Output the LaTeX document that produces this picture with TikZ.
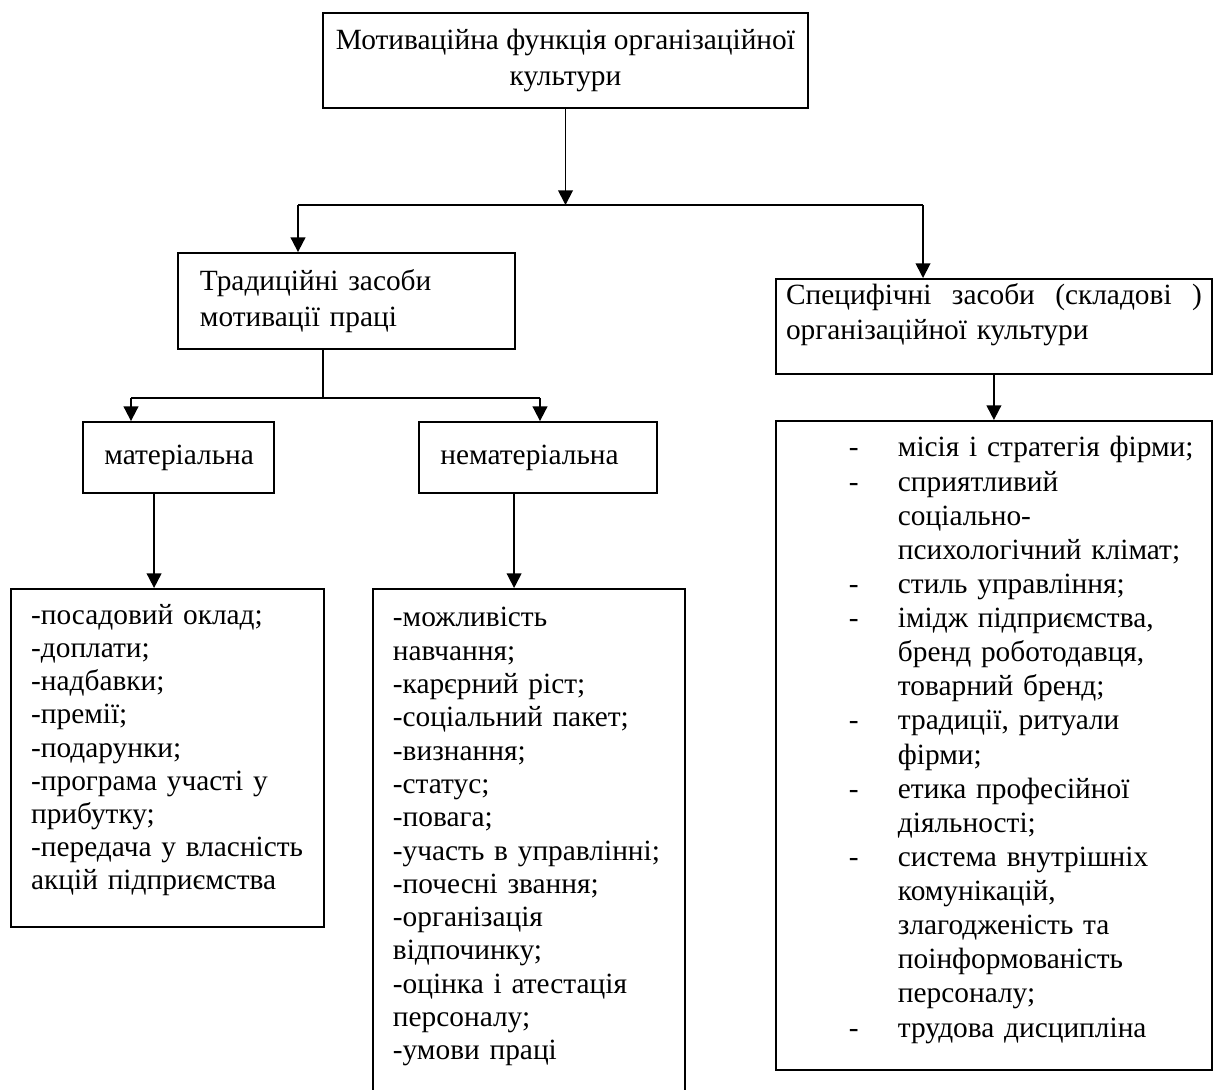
\documentclass[tikz,border=0pt]{standalone}
\usepackage{fontspec}
\setmainfont{Liberation Serif}
\usetikzlibrary{arrows.meta, calc}

\tikzstyle{headbox} = [
    rectangle,
    draw=black,
    line width=1pt,
    minimum width=264.3pt,
    minimum height=51.8pt,
    align=center,
    font=\fontsize{16}{19.2}\selectfont
]
\tikzstyle{groupbox} = [
    rectangle,
    draw=black,
    line width=1pt,
    inner xsep=12pt,
    text width=159.7pt,
    minimum height=52.3pt,
    align=left,
    font=\fontsize{16}{19.6}\selectfont
]
\tikzstyle{kindbox} = [
    rectangle,
    draw=black,
    line width=1pt,
    inner xsep=11.7pt,
    minimum height=38.7pt,
    align=left,
    font=\fontsize{16}{18}\selectfont
]
\tikzstyle{listbox} = [
    rectangle,
    draw=black,
    line width=1pt,
    anchor=north west,
    inner ysep=0pt,
    align=left,
    font=\fontsize{16}{18}\selectfont
]
\tikzstyle{joint} = [line width=1pt]
\tikzstyle{arrow} = [line width=1pt, -{Triangle[length=8pt, width=8pt]}]

\newcommand{\dashitem}[1]{\makebox[61pt][l]{\hspace*{34.3pt}-}\mbox{#1}}
\newcommand{\dashcont}[1]{\hspace*{61pt}\mbox{#1}}

\begin{document}
\begin{tikzpicture}[x=0.545pt, y=-0.545pt]

\useasboundingbox (0,0) rectangle (1217,1089);

\node (motiv) [headbox] at (565.5,60.5)
{Мотиваційна функція організаційної\\культури};

\node (trad) [groupbox] at (346.5,301)
{Традиційні засоби\\мотивації праці};

\node (spec) [listbox, inner xsep=5.5pt, text width=226.6pt,
    text height=14pt, text depth=37.8pt,
    font=\fontsize{16}{19.2}\selectfont] at (775,278)
{\hbox to 226.6pt{Специфічні\hfill{} засоби\hfill{} (складові\hfill{} )}\\
організаційної культури};

\node (mat) [kindbox, text width=80.7pt] at (178.5,457.5) {\mbox{матеріальна}};

\node (nonmat) [kindbox, text width=106.3pt] at (538,457.5) {\mbox{нематеріальна}};

\node (matlist) [listbox, inner xsep=11pt, text width=148.6pt,
    text height=19.6pt, text depth=164.6pt] at (10,588)
{-посадовий оклад;\\
-доплати;\\
-надбавки;\\
-премії;\\
-подарунки;\\
\mbox{-програма участі у}\\
прибутку;\\
\mbox{-передача у власність}\\
\mbox{акцій підприємства}};

\node (nonmatlist) [listbox, inner xsep=10.9pt, text width=148.2pt,
    text height=20.7pt, text depth=256.2pt,
    font=\fontsize{16}{18.15}\selectfont] at (372,588)
{-можливість\\
навчання;\\
-карєрний ріст;\\
\mbox{-соціальний пакет;}\\
-визнання;\\
-статус;\\
-повага;\\
\mbox{-участь в управлінні;}\\
\mbox{-почесні звання;}\\
-організація\\
відпочинку;\\
\mbox{-оцінка і атестація}\\
персоналу;\\
-умови праці};

\node (speclist) [listbox, inner xsep=5.5pt, text width=226.6pt,
    text height=19.6pt, text depth=334.1pt,
    font=\fontsize{16}{18.6}\selectfont] at (775,420)
{\dashitem{місія і стратегія фірми;}\\
\dashitem{сприятливий}\\
\dashcont{соціально-}\\
\dashcont{психологічний клімат;}\\
\dashitem{стиль управління;}\\
\dashitem{імідж підприємства,}\\
\dashcont{бренд роботодавця,}\\
\dashcont{товарний бренд;}\\
\dashitem{традиції, ритуали}\\
\dashcont{фірми;}\\
\dashitem{етика професійної}\\
\dashcont{діяльності;}\\
\dashitem{система внутрішніх}\\
\dashcont{комунікацій,}\\
\dashcont{злагодженість та}\\
\dashcont{поінформованість}\\
\dashcont{персоналу;}\\
\dashitem{трудова дисципліна}};

\coordinate (forkL) at (298,205);
\coordinate (forkR) at (923,205);
\coordinate (subM) at (323,398);
\coordinate (subL) at (131,398);
\coordinate (subR) at (540,398);
\coordinate (matout) at ($(mat.south west)+(72,0)$);
\coordinate (nonmatout) at ($(nonmat.south west)+(96,0)$);

\draw [arrow] (motiv.south) -- (motiv.south |- forkL);
\draw [joint] (forkL) -- (forkR);
\draw [arrow] (forkL) -- (forkL |- trad.north);
\draw [arrow] (forkR) -- (forkR |- spec.north);
\draw [joint] (subM |- trad.south) -- (subM);
\draw [joint] (subL) -- (subR);
\draw [arrow] (subL) -- (subL |- mat.north);
\draw [arrow] (subR) -- (subR |- nonmat.north);
\draw [arrow] (matout) -- (matout |- matlist.north);
\draw [arrow] (nonmatout) -- (nonmatout |- nonmatlist.north);
\draw [arrow] (spec.south) -- (speclist.north);

\end{tikzpicture}
\end{document}
